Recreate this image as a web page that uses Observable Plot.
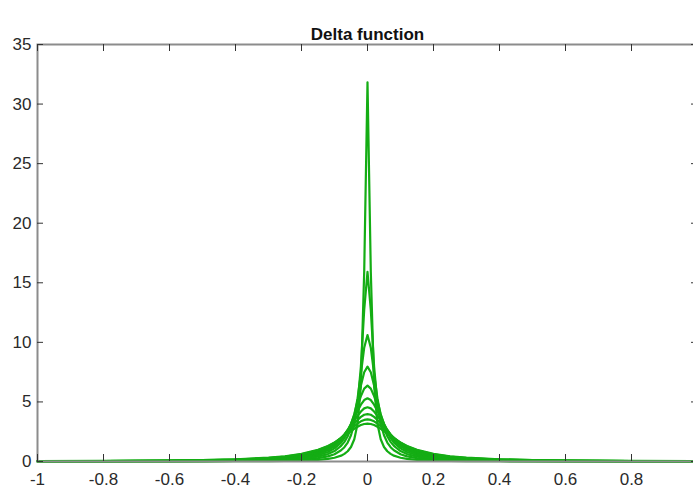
<!DOCTYPE html>
<html>
<head>
<meta charset="utf-8">
<script src="https://cdn.jsdelivr.net/npm/d3@7"></script>
<script src="https://cdn.jsdelivr.net/npm/@observablehq/plot@0.6"></script>
<style>
  html, body { margin: 0; padding: 0; background: white; overflow: hidden; }
  #chart svg { display: block; overflow: visible; }
</style>
</head>
<body>
<div id="chart"></div>
<script>
const title = "Delta function";
const xs = [-1,-0.8,-0.6,-0.5,-0.4,-0.3,-0.25,-0.2,-0.15,-0.12,-0.1,-0.08,-0.07,-0.06,-0.05,-0.04,-0.03,-0.02,-0.01,0,0.01,0.02,0.03,0.04,0.05,0.06,0.07,0.08,0.1,0.12,0.15,0.2,0.25,0.3,0.4,0.5,0.6,0.8,1];
const epsilons = [0.01,0.02,0.03,0.04,0.05,0.06,0.07,0.08,0.09,0.1];
const y01 = [0.003,0.005,0.009,0.013,0.020,0.035,0.051,0.079,0.14,0.22,0.315,0.49,0.64,0.86,1.22,1.87,3.18,6.37,15.92,31.83,15.92,6.37,3.18,1.87,1.22,0.86,0.64,0.49,0.315,0.22,0.14,0.079,0.051,0.035,0.020,0.013,0.009,0.005,0.003];
const y02 = [0.006,0.010,0.018,0.025,0.040,0.070,0.101,0.158,0.28,0.43,0.61,0.94,1.20,1.59,2.20,3.18,4.90,7.96,12.73,15.92,12.73,7.96,4.90,3.18,2.20,1.59,1.20,0.94,0.61,0.43,0.28,0.158,0.101,0.070,0.040,0.025,0.018,0.010,0.006];
const y03 = [0.010,0.015,0.026,0.038,0.059,0.105,0.151,0.233,0.41,0.62,0.88,1.31,1.65,2.12,2.81,3.82,5.31,7.35,9.55,10.61,9.55,7.35,5.31,3.82,2.81,2.12,1.65,1.31,0.88,0.62,0.41,0.233,0.151,0.105,0.059,0.038,0.026,0.015,0.010];
const y04 = [0.013,0.020,0.035,0.051,0.079,0.139,0.199,0.306,0.53,0.80,1.10,1.59,1.96,2.45,3.11,3.98,5.09,6.37,7.49,7.96,7.49,6.37,5.09,3.98,3.11,2.45,1.96,1.59,1.10,0.80,0.53,0.306,0.199,0.139,0.079,0.051,0.035,0.020,0.013];
const y05 = [0.016,0.025,0.044,0.063,0.098,0.172,0.245,0.374,0.64,0.94,1.27,1.79,2.15,2.61,3.18,3.88,4.68,5.49,6.12,6.37,6.12,5.49,4.68,3.88,3.18,2.61,2.15,1.79,1.27,0.94,0.64,0.374,0.245,0.172,0.098,0.063,0.044,0.025,0.016];
const y06 = [0.019,0.030,0.053,0.075,0.117,0.204,0.289,0.438,0.73,1.06,1.40,1.91,2.25,2.65,3.13,3.67,4.24,4.77,5.16,5.31,5.16,4.77,4.24,3.67,3.13,2.65,2.25,1.91,1.40,1.06,0.73,0.438,0.289,0.204,0.117,0.075,0.053,0.030,0.019];
const y07 = [0.022,0.035,0.061,0.087,0.135,0.235,0.331,0.496,0.81,1.15,1.50,1.97,2.27,2.62,3.01,3.43,3.84,4.20,4.46,4.55,4.46,4.20,3.84,3.43,3.01,2.62,2.27,1.97,1.50,1.15,0.81,0.496,0.331,0.235,0.135,0.087,0.061,0.035,0.022];
const y08 = [0.025,0.039,0.070,0.099,0.153,0.264,0.370,0.549,0.88,1.22,1.55,1.99,2.25,2.55,2.86,3.18,3.49,3.74,3.92,3.98,3.92,3.74,3.49,3.18,2.86,2.55,2.25,1.99,1.55,1.22,0.88,0.549,0.370,0.264,0.153,0.099,0.070,0.039,0.025];
const y09 = [0.028,0.044,0.078,0.111,0.170,0.292,0.406,0.596,0.94,1.27,1.58,1.98,2.20,2.45,2.70,2.95,3.18,3.37,3.49,3.54,3.49,3.37,3.18,2.95,2.70,2.45,2.20,1.98,1.58,1.27,0.94,0.596,0.406,0.292,0.170,0.111,0.078,0.044,0.028];
const y10 = [0.032,0.049,0.086,0.122,0.187,0.318,0.439,0.637,0.98,1.30,1.59,1.94,2.14,2.34,2.55,2.74,2.92,3.06,3.15,3.18,3.15,3.06,2.92,2.74,2.55,2.34,2.14,1.94,1.59,1.30,0.98,0.637,0.439,0.318,0.187,0.122,0.086,0.049,0.032];
const xTicks = [-1,-0.8,-0.6,-0.4,-0.2,0,0.2,0.4,0.6,0.8,1];
const xTickLabels = [-1,-0.8,-0.6,-0.4,-0.2,0,0.2,0.4,0.6,0.8];
const yTicks = [0,5,10,15,20,25,30,35];

const series = [y01,y02,y03,y04,y05,y06,y07,y08,y09,y10];
const data = series.flatMap((ys, k) => xs.map((x, i) => ({x, y: ys[i], eps: epsilons[k]})));

const W = 693, H = 489;
const mL = 37, mR = -4, mT = 44, mB = 28;
const frameW = W - mL - mR, frameH = H - mT - mB;
const green = "#14ad14";
const fmt = d => String(d);
const font = "'Liberation Sans Narrow', 'Liberation Sans', Arial, sans-serif";

const chart = Plot.plot({
  width: W, height: H,
  marginLeft: mL, marginRight: mR, marginTop: mT, marginBottom: mB,
  style: {fontFamily: font, fontSize: "17px", color: "#2a2a2a", background: "white", overflow: "visible"},
  x: {domain: [-1, 1], label: null},
  y: {domain: [0, 35], label: null},
  marks: [
    Plot.line(data, {x: "x", y: "y", z: "eps", stroke: green, strokeWidth: 2.2, curve: "linear"}),
    Plot.frame({stroke: "#8c8c8c", strokeWidth: 2}),
    Plot.tickX(xTicks, {x: d => d, stroke: "#333", strokeWidth: 1, insetTop: frameH - 7}),
    Plot.tickX(xTicks, {x: d => d, stroke: "#333", strokeWidth: 1, insetBottom: frameH - 7}),
    Plot.tickY(yTicks, {y: d => d, stroke: "#333", strokeWidth: 1, insetRight: frameW - 6}),
    Plot.tickY(yTicks, {y: d => d, stroke: "#333", strokeWidth: 1, insetLeft: frameW - 6}),
    Plot.axisX(xTickLabels, {anchor: "bottom", tickSize: 0, tickPadding: 11, tickFormat: fmt, fontSize: 17, label: null}),
    Plot.axisY(yTicks, {anchor: "left", tickSize: 0, tickPadding: 6, tickFormat: fmt, fontSize: 17, label: null}),
    Plot.text([title], {x: 0, frameAnchor: "top", dy: -17, fontWeight: "bold", fontSize: 17, fill: "#111"})
  ]
});
document.getElementById("chart").appendChild(chart);
</script>
</body>
</html>
